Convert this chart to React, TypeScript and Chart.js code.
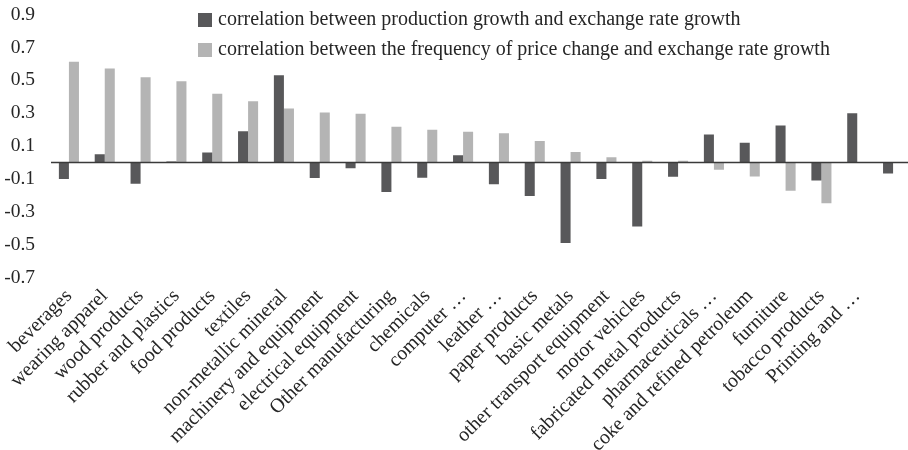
import React, { useEffect, useRef } from "react";
import { Chart, registerables } from "chart.js";

Chart.register(...registerables);

const categories: string[] = [
  "beverages",
  "wearing apparel",
  "wood products",
  "rubber and plastics",
  "food products",
  "textiles",
  "non-metallic mineral",
  "machinery and equipment",
  "electrical equipment",
  "Other manufacturing",
  "chemicals",
  "computer …",
  "leather …",
  "paper products",
  "basic metals",
  "other transport equipment",
  "motor vehicles",
  "fabricated metal products",
  "pharmaceuticals …",
  "coke and refined petroleum",
  "furniture",
  "tobacco products",
  "Printing and …",
  "",
];

const productionCorr: number[] = [
  -0.1, 0.05, -0.13, 0.005, 0.06, 0.19, 0.53, -0.095, -0.035, -0.18, -0.093, 0.044,
  -0.133, -0.204, -0.49, -0.1, -0.39, -0.087, 0.17, 0.12, 0.224, -0.11, 0.3, -0.067,
];

const priceFreqCorr: number[] = [
  0.613, 0.572, 0.519, 0.494, 0.418, 0.373, 0.328, 0.304, 0.296, 0.217, 0.199, 0.187,
  0.178, 0.13, 0.063, 0.032, 0.01, 0.01, -0.044, -0.085, -0.172, -0.248, 0, 0,
];

const seriesLabels: string[] = [
  "correlation between production growth and exchange rate growth",
  "correlation between the frequency of price change and exchange rate growth",
];

const yTicks: number[] = [-0.7, -0.5, -0.3, -0.1, 0.1, 0.3, 0.5, 0.7, 0.9];

const FONT = "'Liberation Serif', 'Times New Roman', serif";
const DARK = "#58585a";
const LIGHT = "#b4b4b4";
const TEXT = "#262626";

const zeroLinePlugin = {
  id: "zeroLine",
  afterDatasetsDraw(chart: any) {
    const { ctx, chartArea, scales } = chart;
    const y = scales.y.getPixelForValue(0);
    ctx.save();
    ctx.strokeStyle = "#3a3a3a";
    ctx.lineWidth = 1.5;
    ctx.beginPath();
    ctx.moveTo(chartArea.left, y);
    ctx.lineTo(chart.width, y);
    ctx.stroke();
    ctx.restore();
  },
};

const legendPlugin = {
  id: "customLegend",
  afterDraw(chart: any) {
    const { ctx } = chart;
    ctx.save();
    ctx.font = `20px ${FONT}`;
    ctx.textBaseline = "middle";
    ctx.textAlign = "left";
    chart.data.datasets.forEach((ds: any, i: number) => {
      const cy = 20 + i * 30;
      ctx.fillStyle = ds.backgroundColor;
      ctx.fillRect(198, cy - 7, 14, 14);
      ctx.fillStyle = TEXT;
      ctx.fillText(ds.label, 218, cy);
    });
    ctx.restore();
  },
};

export default function App() {
  const canvasRef = useRef<HTMLCanvasElement | null>(null);

  useEffect(() => {
    if (!canvasRef.current) return;
    const chart = new Chart(canvasRef.current, {
      type: "bar",
      data: {
        labels: categories,
        datasets: [
          {
            label: seriesLabels[0],
            data: productionCorr,
            backgroundColor: DARK,
            categoryPercentage: 0.56,
            barPercentage: 1,
          },
          {
            label: seriesLabels[1],
            data: priceFreqCorr,
            backgroundColor: LIGHT,
            categoryPercentage: 0.56,
            barPercentage: 1,
          },
        ],
      },
      options: {
        animation: false,
        responsive: true,
        maintainAspectRatio: false,
        layout: { padding: { top: 14.5, left: 0, right: 0, bottom: 0 } },
        plugins: {
          legend: { display: false },
          tooltip: { enabled: false },
        },
        scales: {
          x: {
            grid: { display: false, drawTicks: false },
            border: { display: false },
            ticks: {
              autoSkip: false,
              maxRotation: 45,
              minRotation: 45,
              color: TEXT,
              font: { family: FONT, size: 20 },
              padding: 7,
            },
            afterFit(scale: any) {
              scale.height = 172.5;
              scale.paddingLeft = 0;
              scale.paddingRight = 0;
            },
          },
          y: {
            min: -0.7,
            max: 0.9,
            grid: { display: false, drawTicks: false },
            border: { display: false },
            afterBuildTicks(scale: any) {
              scale.ticks = yTicks.map((v) => ({ value: v }));
            },
            ticks: {
              color: TEXT,
              font: { family: FONT, size: 19.5 },
              padding: 16,
              callback: (v: any) => String(Math.round(Number(v) * 10) / 10),
            },
            afterFit(scale: any) {
              scale.width = 51;
              scale.paddingTop = 0;
              scale.paddingBottom = 0;
            },
          },
        },
      },
      plugins: [zeroLinePlugin, legendPlugin],
    });
    return () => chart.destroy();
  }, []);

  return (
    <div
      style={{
        position: "fixed",
        left: 0,
        top: 0,
        width: 908,
        height: 450,
        overflow: "hidden",
        background: "#fff",
      }}
    >
      <div style={{ position: "relative", width: 911, height: 450 }}>
        <canvas ref={canvasRef} />
      </div>
    </div>
  );
}
